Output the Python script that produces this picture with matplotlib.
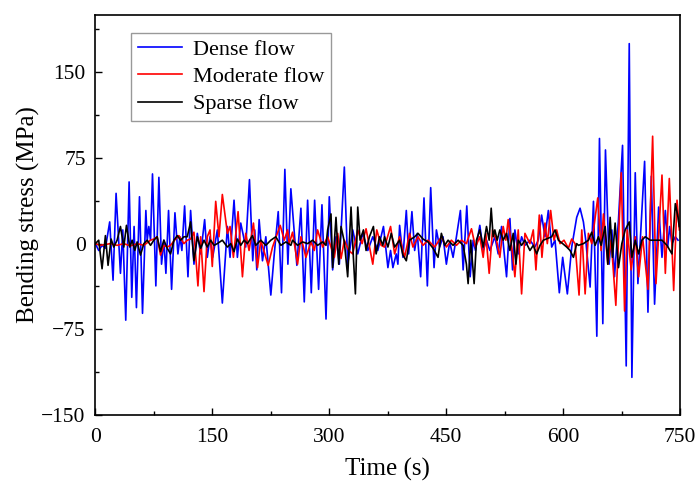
import matplotlib
matplotlib.use("Agg")
import matplotlib.pyplot as plt
from matplotlib.ticker import MultipleLocator

# --- Data (time in s, stress in MPa) ----------------------------------------

dense_t = [0, 4.3, 8.6, 12.9, 18.4, 22.7, 26.6, 32.2, 35.2, 39, 43.3, 46.7, 49.7,
           52.7, 56.6, 60.5, 64.8, 66.5, 68.6, 70.8, 73.3, 77.6, 81.5, 84.9, 87.9,
           90.5, 93.9, 97.8, 102.1, 105.9, 108.5, 111, 114.5, 118.8, 122.2, 126.5,
           130.8, 135.1, 140.2, 143.6, 147.1, 150.5, 156.5, 162.9, 169.4, 172.8,
           177.9, 182.2, 186.5, 192.9, 197.7, 201.9, 204.5, 207.1, 210.1, 214.4,
           218.7, 225.1, 229.4, 234.6, 238.8, 243.1, 247, 250.8, 258.5, 263.7, 268,
           272.3, 277, 281.3, 286.4, 290.7, 295.9, 300.1, 304.4, 308.7, 313, 319.4,
           323.7, 330.2, 336.6, 343, 349.5, 355.9, 362.3, 369.6, 375.3, 378.7,
           381.7, 386, 388.1, 390.3, 394.6, 398.9, 401.9, 406.1, 409.6, 413, 417.3,
           421.6, 425.9, 430.2, 434.5, 437.5, 441.7, 446, 450.3, 454.6, 458.9,
           463.2, 468.3, 471.8, 476.5, 480.8, 484.6, 487.6, 493.2, 497.5, 501.8,
           506.1, 512.5, 516.8, 521.1, 527.5, 531.8, 535.2, 538.2, 542.5, 546.8,
           551.1, 557.5, 563.9, 568.2, 572.5, 576.8, 581.1, 585.4, 589.7, 595.2,
           599.5, 605.5, 611.1, 617.5, 621.8, 626.1, 629.1, 634.7, 639, 643.3,
           646.7, 651, 654.4, 659.1, 662.6, 666, 671.1, 676.3, 681, 684.9, 688.3,
           692.6, 696, 704.6, 708.9, 713.2, 717.4, 722.6, 726.9, 731.2, 734.2,
           736.7, 739.7, 744, 747.5]
dense_v = [0, -6, -1.5, -4, 19, -32, 44, -26, 12, -67, 54, -47, 15,
           -56, 41, -61, 29, 3, 15, 3, 61, -37, 58, -18, 3,
           -26, 29, -40, 27, -9, 6, -6, 33, -29, 29, -18,
           9, -9, 21, -12, 6, -12, 12, -52, 15, -12,
           38, -12, 18, -3, 56, -15, 12, -23, 21, -15,
           6, -45, -10, 28, -43, 65, -18, 48, -19, 31, -51,
           38, -43, 38, -40, 34, -66, 41, -23, 6, -18, 67,
           -18, 12, -9, 9, -6, 6, -6, 15, -21, -6,
           -21, -9, -18, 16, -12, 29, -9, 28, -6, 9, -29,
           40, -37, 49, -21, 12, -3, 6, -18, 1.5, -12,
           6, 29, -23, 33, -29, 3, -6, 16, -6, 3,
           -6, 6, -9, 15, -29, 22, -23, 12, -9, 6,
           -1.5, 3, -3, 3, 25, 6, 29, -3, 3, -43,
           -12, -44, -3, 23, 31, 19, 3, -38, 37, -81,
           92, -70, 82, -18, 12, -29, 21, 86, -107, 175, -117,
           62, -35, 72, -60, 59, -53, 32, -12, 29, -3,
           15, 0, 6, 3]

moderate_t = [0, 6.4, 19.3, 27.9, 36.5, 45, 53.6, 62.2, 70.8, 75, 79.3, 83.6,
              87.9, 92.2, 96.5, 101.6, 107.2, 113.6, 117.9, 122.2, 126.5, 131.6,
              135.1, 139.4, 143.6, 147.1, 150, 154.4, 158.6, 162.9, 169.4, 172.8,
              177.1, 183.1, 188.7, 192.9, 197.2, 202.8, 208, 212.2, 221.7, 227.3,
              237.1, 242.3, 246.6, 248.7, 253, 259.4, 263.7, 270.1, 276.6, 280.9,
              285.1, 291.6, 298, 306.6, 310.9, 315.2, 319.4, 325, 330.2, 336.6,
              342.2, 347.3, 355.9, 361, 366.6, 371, 378.7, 383.9, 390.3, 396.7,
              403.1, 407.4, 413.9, 420.3, 426.7, 435.3, 443.9, 450.3, 456.7, 463.2,
              469.6, 476, 482.5, 487.6, 493.2, 497.5, 500.9, 505.2, 509.5, 514.6,
              518.9, 523.2, 526.6, 529.6, 535.2, 538.2, 542.5, 546.8, 551.1, 557.5,
              561.8, 565.2, 569.5, 572.9, 576.8, 579.8, 584.1, 588.4, 591.8, 596.1,
              601.2, 606.8, 611.1, 615.4, 620.5, 624, 628.3, 632.5, 636.8, 644.5,
              648.8, 651.8, 657.4, 661.7, 667.7, 674.6, 678.9, 682.3, 687.4, 692.6,
              696.9, 702, 708.9, 714.9, 719.2, 726.9, 731.2, 736.3, 741.9, 746.2,
              749.2]
moderate_v = [0, -1.5, 0, -1.5, 0, -2, 0, -1.5, 3, 4, 6, -10,
              -1.5, -3, -1.5, 3, 7, 0, 3, 4, 10, -37,
              6, -42, 6, 12, -20, 37, 6, 43, 9, 15,
              -12, 28, -29, 9, -6, 18, -21, 3, -19, -3,
              16, 3, 12, 0, 10, -18, 6, -12, 1.5, -6,
              12, -3, 6, -12, 9, -13, 3, -6, -9, 12,
              0, 13, -18, 12, -1.5, -3, 15, -9, 6, -12,
              9, -3, 6, -1.5, 3, -3, 6, -3, 3, -1.5,
              3, 0, 13, -3, 6, -12, 9, -26, 12, 3,
              -12, 15, 3, 21, -9, -29, 12, -44, 9, 0,
              12, -23, 25, -12, 18, 0, 29, 3, 12, 0,
              3, -4, 4, 0, -45, 12, -44, 9, 0, 40,
              -6, 26, -18, 3, -54, 62, -59, 12, -23, 6,
              -29, 6, -40, 94, -35, 60, -26, 57, -41, 38,
              12]

sparse_t = [0, 4.3, 8.6, 12.9, 16.3, 20.2, 23.6, 27.9, 32.2, 36.5, 39.9, 44.2,
            47.2, 50.6, 53.6, 57.9, 62.2, 66.5, 70.8, 75, 79.3, 83.6, 87.9, 92.2,
            96.5, 100.8, 105.1, 109.3, 113.6, 117.9, 122.2, 126.5, 130.8, 135.1,
            139.4, 143.6, 147.9, 152.2, 156.5, 162.9, 169.4, 173.7, 177.9, 182.2,
            186.5, 190.8, 195.1, 201.5, 205.8, 212.2, 218.7, 225.1, 231.5, 238,
            244.4, 250.8, 253, 259.4, 265.8, 272.3, 278.7, 285.1, 291.6, 295.9,
            298, 302.3, 304.4, 308.7, 312.2, 315.2, 319.4, 323.7, 328, 331, 333.6,
            336.6, 339.6, 343.9, 347.3, 351.6, 356.7, 360.2, 364.5, 368.8, 371,
            375.3, 379.6, 383.9, 390.3, 394.6, 398.9, 403.1, 409.6, 413.9, 420.3,
            426.7, 433.2, 439.6, 443.9, 448.2, 452.5, 458.9, 465.3, 471.8, 476,
            478.2, 481.6, 485.9, 488.9, 493.2, 497.5, 501.8, 505.2, 507.8, 510.3,
            512.5, 515.5, 518.9, 523.2, 527.5, 531.8, 536.1, 539.5, 542.5, 546.8,
            551.1, 557.5, 561.8, 566.1, 570.4, 574.7, 585.4, 589.7, 594, 599.5,
            604.7, 609, 613.3, 617.5, 619.7, 626.1, 632.5, 636.8, 641.1, 645.4,
            648.8, 654, 657.4, 660.4, 663.4, 666.8, 671.1, 675.4, 679.7, 684.9,
            688.3, 692.6, 696.9, 701.1, 705.4, 711.9, 718.3, 726.9, 733.3, 739.7,
            744, 747.5, 749]
sparse_v = [0, 3, -22, 7, -19, 4, -3, 3, 15, -3, 16, -3,
            3, -6, 1.5, -10, 0, 3, -1.5, 3, 6, -7, 3, -4,
            -9, 3, 7, 3, 6, 6, 19, -15, 6, -4,
            3, -3, 3, -1.5, 0, 3, -3, 0, -7, 4,
            -1.5, 3, 0, 7, -1.5, 3, -1.5, 3, 6, -1.5,
            1.5, -1.5, 3, -1.5, 1.5, 0, 3, -1.5, 1.5, -1.5,
            12, 26, -21, 23, -18, 15, 1.5, -29, 32, -12, -44,
            32, 3, 12, -6, 6, 15, -9, 6, -1.5, 6,
            -3, 9, -3, 3, -10, -15, 3, 6, 9, 4,
            1.5, -4, -12, 9, -1.5, 3, -1.5, 3, -1.5, -18,
            -35, 3, -35, 3, 12, -3, 15, 3, 31, 6,
            12, 3, 12, 3, 9, -6, 9, -18, 3, -1.5,
            3, -6, -1.5, -9, -1.5, 3, 6, 12, 3, 0,
            -3, -6, -12, 0, -1.5, 0, 3, 10, -1.5, 6,
            -1.5, 15, -18, 23, -12, 18, -21, 0, 12, 19,
            -12, 3, -9, 3, 6, 3, 3, 3, -1.5, -9,
            35, 23, 15]

x_ticks = [0, 150, 300, 450, 600, 750]
y_ticks = [-150, -75, 0, 75, 150]

# --- Plot --------------------------------------------------------------------

plt.rcParams["font.family"] = ["Liberation Serif", "DejaVu Serif"]
plt.rcParams["axes.unicode_minus"] = True

fig = plt.figure(figsize=(6.96, 4.86), dpi=100)
ax = fig.add_axes([0.137, 0.146, 0.840, 0.823])

ax.plot(dense_t, dense_v, color="#0000FF", linewidth=1.2, label="Dense flow")
ax.plot(moderate_t, moderate_v, color="#FF0000", linewidth=1.2, label="Moderate flow")
ax.plot(sparse_t, sparse_v, color="black", linewidth=1.2, label="Sparse flow")

ax.set_xlim(0, 750)
ax.set_ylim(-150, 200)
ax.set_xticks(x_ticks)
ax.set_yticks(y_ticks)
ax.xaxis.set_minor_locator(MultipleLocator(75))
ax.yaxis.set_minor_locator(MultipleLocator(37.5))
ax.tick_params(which="both", direction="in", labelsize=15.5)
ax.tick_params(axis="x", which="major", length=5, width=1, pad=9)
ax.tick_params(axis="y", which="major", length=5, width=1, pad=7)
ax.tick_params(which="minor", length=3, width=1)
for sp in ax.spines.values():
    sp.set_linewidth(1.2)

ax.set_xlabel("Time (s)", fontsize=18, labelpad=8)
ax.set_ylabel("Bending stress (MPa)", fontsize=18, labelpad=1)

leg = ax.legend(loc="upper left", bbox_to_anchor=(0.061, 0.956), fontsize=16,
                frameon=True, fancybox=False, handlelength=2.0,
                borderpad=0.3, labelspacing=0.3, handletextpad=0.5,
                borderaxespad=0.0)
leg.get_frame().set_edgecolor("#808080")
leg.get_frame().set_linewidth(1.0)

fig.savefig("out.png", dpi=100)
